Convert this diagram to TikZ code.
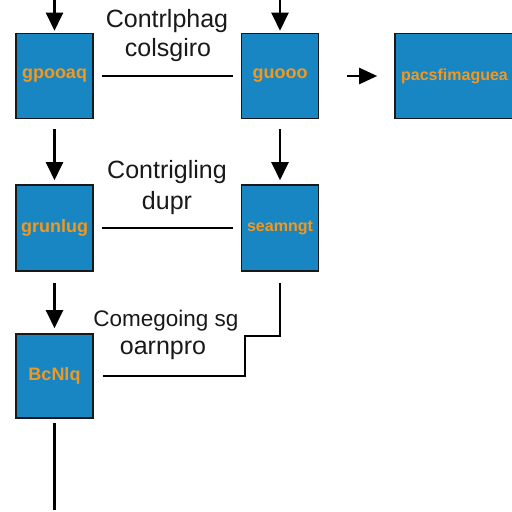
\documentclass[tikz,border=0pt]{standalone}
\usepackage{fontspec}
\setmainfont{Liberation Sans}
\usetikzlibrary{arrows.meta}
\definecolor{boxblue}{RGB}{24,134,194}
\definecolor{boxorange}{RGB}{243,152,30}
\begin{document}
\begin{tikzpicture}[x=1pt,y=-1pt,
 blk/.style={draw=black!90,line width=1.6pt,fill=boxblue,minimum width=77pt,minimum height=85pt,inner sep=0pt,font=\fontsize{18}{18}\bfseries\selectfont,text=boxorange},
 conn/.style={line width=2.4pt,black},
 arr/.style={conn,-{Triangle[length=18pt,width=17pt]}},
 harr/.style={conn,-{Triangle[length=18pt,width=16pt]}},
 lbl/.style={font=\fontsize{25}{25}\selectfont,text=black!90,inner sep=0pt}]
\useasboundingbox[fill=white] (0,0) rectangle (512,512);
% boxes
\node[blk] (a1) at (54.5,76) {gpooaq};
\node[blk] (a2) at (280,76) {guooo};
\node[blk,minimum width=119pt,font=\fontsize{16}{16}\bfseries\selectfont] (a3) at (454.5,76) {pacsfimaguea};
\node[blk,minimum height=86pt] (b1) at (54.5,228) {grunlug};
\node[blk,minimum height=86pt,font=\fontsize{16}{16}\bfseries\selectfont] (b2) at (280,228) {seamngt};
\node[blk,minimum height=84pt] (c1) at (54.5,376) {BcNlq};
% labels
\node[lbl] (l1) at (167,21) {Contrlphag};
\node[lbl] (l1b) at (168,50) {colsgiro};
\node[lbl] (l2) at (167,172) {Contrigling};
\node[lbl] (l2b) at (167,203) {dupr};
\node[lbl,font=\fontsize{22.5}{22.5}\selectfont] (l3) at (166,321) {Comegoing sg};
\node[lbl] (l3b) at (163,350) {oarnpro};
% free ends
\coordinate (t1) at (54.5,0);
\coordinate (t2) at (280,0);
\coordinate (bot) at (54.5,510);
% connectors
\draw[arr,shorten >=2pt] (t1) -- (a1.north);
\draw[arr,shorten >=2pt] (t2) -- (a2.north);
\draw[conn,shorten <=8pt,shorten >=8pt] (a1.east) -- (a2.west);
\draw[harr,shorten <=28pt,shorten >=17pt] (a2.east) -- (a3.west);
\draw[arr,shorten <=10pt,shorten >=4pt] (a1.south) -- (b1.north);
\draw[arr,shorten <=10pt,shorten >=4pt] (a2.south) -- (b2.north);
\draw[conn,shorten <=8pt,shorten >=8pt] (b1.east) -- (b2.west);
\draw[arr,shorten <=11pt,shorten >=5pt] (b1.south) -- (c1.north);
\draw[conn,shorten <=11pt,shorten >=9pt] (b2.south) -- ++(0,64) -- ++(-35,0) |- (c1.east);
\draw[conn,shorten <=4pt] (c1.south) -- (bot);
\end{tikzpicture}
\end{document}
